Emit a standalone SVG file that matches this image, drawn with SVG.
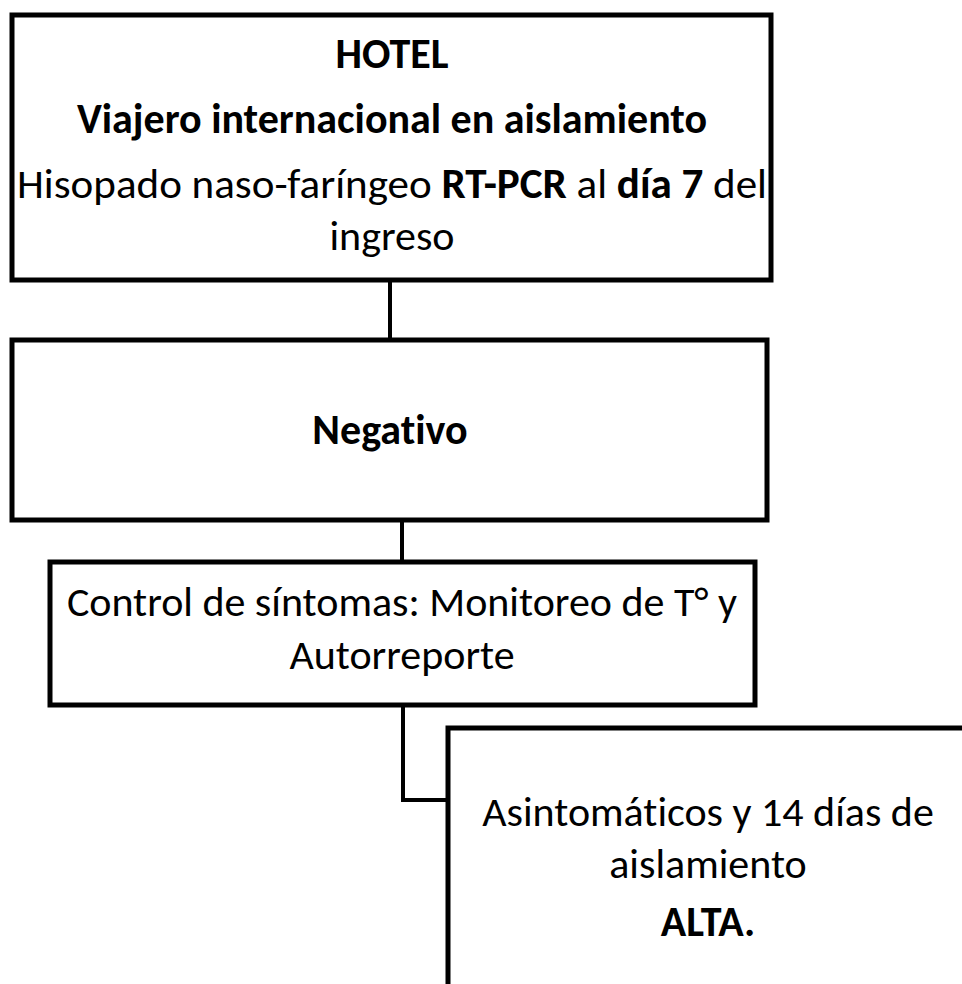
<svg xmlns="http://www.w3.org/2000/svg" width="962" height="984" viewBox="0 0 962 984">
<style>
.box{fill:#fff;stroke:#000;stroke-width:5}
.conn{fill:none;stroke:#000;stroke-width:4}
text{font-family:Carlito,Lato,"Liberation Sans",sans-serif;font-size:42px;fill:#000;text-anchor:middle;font-variant-ligatures:none}
.b{font-weight:bold}
</style>
<rect width="962" height="984" fill="#fff"/>
<g id="connectors">
<line class="conn" x1="390" y1="280" x2="390" y2="340"/>
<line class="conn" x1="402" y1="520" x2="402" y2="562"/>
<polyline class="conn" points="403,705 403,800 448,800"/>
</g>
<g id="hotel">
<rect class="box" x="12" y="15" width="759" height="265"/>
<text class="b" x="392" y="68">HOTEL</text>
<text class="b" x="392" y="133">Viajero internacional en aislamiento</text>
<text x="392" y="198" textLength="750" lengthAdjust="spacingAndGlyphs"><tspan>Hisopado naso-faríngeo </tspan><tspan class="b">RT-PCR</tspan><tspan> al </tspan><tspan class="b">día 7</tspan><tspan> del</tspan></text>
<text x="392" y="250">ingreso</text>
</g>
<g id="negativo">
<rect class="box" x="12" y="340" width="755" height="180"/>
<text class="b" x="390" y="444">Negativo</text>
</g>
<g id="control">
<rect class="box" x="50" y="562" width="705" height="143"/>
<text x="402" y="616">Control de síntomas: Monitoreo de T° y</text>
<text x="402" y="669">Autorreporte</text>
</g>
<g id="alta">
<rect class="box" x="448" y="728" width="530" height="270"/>
<text x="708" y="826">Asintomáticos y 14 días de</text>
<text x="708" y="878">aislamiento</text>
<text class="b" x="708" y="936">ALTA.</text>
</g>
</svg>
